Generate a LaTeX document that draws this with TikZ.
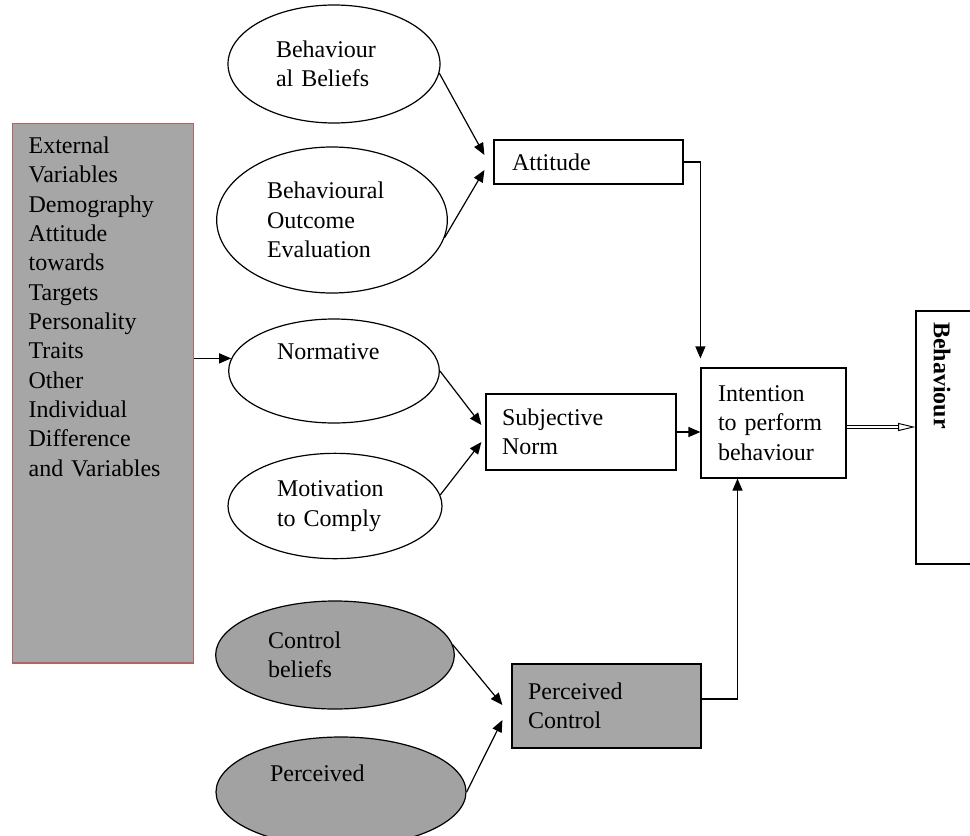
\documentclass[tikz,border=0pt]{standalone}
\usepackage{fontspec}
\setmainfont{Liberation Serif}
\usetikzlibrary{arrows.meta, positioning}
\usetikzlibrary{shapes.geometric}

\definecolor{boxgray}{RGB}{166,166,166}
\definecolor{ovalgray}{RGB}{162,162,162}
\definecolor{extedge}{RGB}{178,100,100}

\begin{document}
\begin{tikzpicture}[
    x=0.75pt, y=-0.75pt, % one unit is one pixel of the layout, y grows downwards
    every node/.style={font=\fontsize{18}{22}\selectfont, align=left},
    oval/.style={ellipse, draw, line width=0.9pt, inner sep=0pt},
    darkoval/.style={oval, fill=ovalgray},
    factor/.style={rectangle, draw, line width=0.9pt, inner xsep=12pt, inner ysep=0pt},
    darkfactor/.style={factor, fill=boxgray},
    extbox/.style={rectangle, draw=extedge, fill=boxgray, line width=0.9pt, inner xsep=12pt, inner ysep=10pt},
    link/.style={draw, line width=0.9pt, -{Triangle[length=9pt, width=7.5pt]}},
    outlink/.style={draw, double, double distance=1.6pt, line width=0.7pt, -{Triangle[open, length=13pt, width=6pt]}}
]
\useasboundingbox (0,0) rectangle (970,835);
\fill[white] (0,0) rectangle (970,835);
\clip (0,0) rectangle (970,835);

% External variables
\node[extbox, anchor=north west, text width=111.75pt, text depth=372pt] (ext) at (12,123) {External\\Variables\\Demography\\Attitude\\towards\\Targets\\Personality\\Traits\\Other\\Individual\\Difference\\and Variables};

% Beliefs (ovals)
\node[oval, minimum width=159pt, minimum height=88.5pt, text width=87pt] (bbel) at (334,64) {Behaviour\\al Beliefs};
\node[oval, minimum width=173pt, minimum height=109.5pt, text width=97.5pt] (boe) at (332,220) {Behavioural\\Outcome\\Evaluation};
\node[oval, minimum width=158pt, minimum height=78pt, text width=85.5pt] (norm) at (334,371) {Normative\\\strut};
\node[oval, minimum width=160.5pt, minimum height=79pt, text width=87pt] (motiv) at (335,506) {Motivation\\to Comply};
\node[darkoval, minimum width=179pt, minimum height=81pt, text width=100.5pt] (ctrl) at (335,655) {Control\\beliefs};
\node[darkoval, minimum width=187.5pt, minimum height=82.5pt, text width=106.5pt] (percb) at (341,792) {Perceived\\\strut};

% Factors
\node[factor, minimum width=141.75pt, minimum height=33pt, text width=114.75pt, inner xsep=13.5pt] (att) at (588.5,162) {Attitude};
\node[factor, minimum width=142.5pt, minimum height=57pt, text width=118.5pt] (subj) at (581,432) {Subjective\\Norm};
\node[darkfactor, minimum width=141.75pt, minimum height=63pt, text width=117.75pt] (perc) at (606.5,706) {Perceived\\Control};

% Intention and behaviour
\node[factor, minimum width=108.75pt, minimum height=82.5pt, text width=83.25pt, inner xsep=12.75pt] (intent) at (773.5,423) {Intention\\to perform\\behaviour};
\node[factor, minimum width=63pt, minimum height=189.75pt] (behav) at (958,437.5) {};
\node[rotate=-90, anchor=west, inner sep=0pt, font=\fontsize{18}{22}\selectfont\bfseries] (behavlbl) at (942,322) {Behaviour};

% Arrows
\path[link] (bbel.-5) -- ([shift={(-9,-7)}]att.west);
\path[link] (boe.-9) -- ([shift={(-9,8)}]att.west);
\path[link] (att.east) -| ([shift={(0,-9)}]intent.north west);
\path[link] (ext.east |- norm.173) -- (norm.173);
\path[link] (norm.east) -- ([shift={(-4,-7)}]subj.west);
\path[link] (motiv.6) -- ([shift={(-4,10)}]subj.west);
\path[link] (subj.east) -- (subj.east -| intent.west);
\path[link] (ctrl.5) -- ([shift={(-9,-1)}]perc.west);
\path[link] (percb.east) -- ([shift={(-9,14)}]perc.west);
\path[link] ([shift={(0,-7)}]perc.east) -| ([shift={(-36,0)}]intent.south);
\path[outlink] ([shift={(0,4)}]intent.east) -- ([shift={(0,4)}]intent.east -| behav.west);

\end{tikzpicture}
\end{document}
